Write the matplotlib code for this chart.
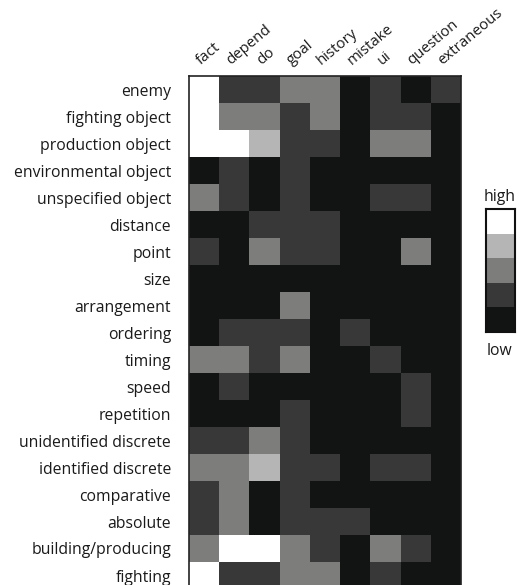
import matplotlib
matplotlib.use("Agg")
import matplotlib.pyplot as plt
from matplotlib.colors import ListedColormap, BoundaryNorm
import numpy as np

plt.rcParams['font.family'] = ['Open Sans', 'DejaVu Sans']

# columns / rows
columns = ['fact', 'depend', 'do', 'goal', 'history', 'mistake', 'ui', 'question', 'extraneous']
rows = ['enemy', 'fighting object', 'production object', 'environmental object',
        'unspecified object', 'distance', 'point', 'size', 'arrangement', 'ordering',
        'timing', 'speed', 'repetition', 'unidentified discrete', 'identified discrete',
        'comparative', 'absolute', 'building/producing', 'fighting']

# level 0 = low ... 4 = high
levels = [
    [4, 1, 1, 2, 2, 0, 1, 0, 1],
    [4, 2, 2, 1, 2, 0, 1, 1, 0],
    [4, 4, 3, 1, 1, 0, 2, 2, 0],
    [0, 1, 0, 1, 0, 0, 0, 0, 0],
    [2, 1, 0, 1, 0, 0, 1, 1, 0],
    [0, 0, 1, 1, 1, 0, 0, 0, 0],
    [1, 0, 2, 1, 1, 0, 0, 2, 0],
    [0, 0, 0, 0, 0, 0, 0, 0, 0],
    [0, 0, 0, 2, 0, 0, 0, 0, 0],
    [0, 1, 1, 1, 0, 1, 0, 0, 0],
    [2, 2, 1, 2, 0, 0, 1, 0, 0],
    [0, 1, 0, 0, 0, 0, 0, 1, 0],
    [0, 0, 0, 1, 0, 0, 0, 1, 0],
    [1, 1, 2, 1, 0, 0, 0, 0, 0],
    [2, 2, 3, 1, 1, 0, 1, 1, 0],
    [1, 2, 0, 1, 0, 0, 0, 0, 0],
    [1, 2, 0, 1, 1, 1, 0, 0, 0],
    [2, 4, 4, 2, 1, 0, 2, 1, 0],
    [4, 1, 1, 2, 2, 0, 1, 0, 0],
]

grays = ['#121414', '#383838', '#7d7e7c', '#b5b5b5', '#ffffff']
cmap = ListedColormap(grays)
norm = BoundaryNorm(np.arange(-0.5, 5.5, 1), cmap.N)

W, H = 520, 585
fig = plt.figure(figsize=(W / 100, H / 100), dpi=100)

# heatmap
ax = fig.add_axes([189 / W, -4 / H, (461 - 189) / W, (585 + 4 - 76) / H])
ax.imshow(np.array(levels), cmap=cmap, norm=norm, aspect='auto', interpolation='nearest')
ax.set_yticks(range(len(rows)))
ax.set_yticklabels(rows, fontsize=11.3, color='#1a1a1a')
ax.tick_params(axis='y', length=0, pad=13)
ax.set_xticks([])
for i, c in enumerate(columns):
    ax.text(i - 0.12, -0.9, c, rotation=40, rotation_mode='anchor',
            ha='left', va='baseline', fontsize=10.8, color='#1a1a1a')
for s in ax.spines.values():
    s.set_linewidth(1.2)
    s.set_color('#222222')

# legend bar
cax = fig.add_axes([486 / W, (H - 332) / H, (515 - 486) / W, (332 - 209) / H])
cax.imshow(np.arange(5)[::-1].reshape(-1, 1), cmap=cmap, norm=norm, aspect='auto')
cax.set_xticks([])
cax.set_yticks([])
for s in cax.spines.values():
    s.set_linewidth(1.5)
    s.set_color('#111111')
fig.text(500 / W, (H - 197) / H, 'high', ha='center', va='center', fontsize=11.3, color='#1a1a1a')
fig.text(500 / W, (H - 351) / H, 'low', ha='center', va='center', fontsize=11.3, color='#1a1a1a')

fig.savefig('out.png', dpi=100)
